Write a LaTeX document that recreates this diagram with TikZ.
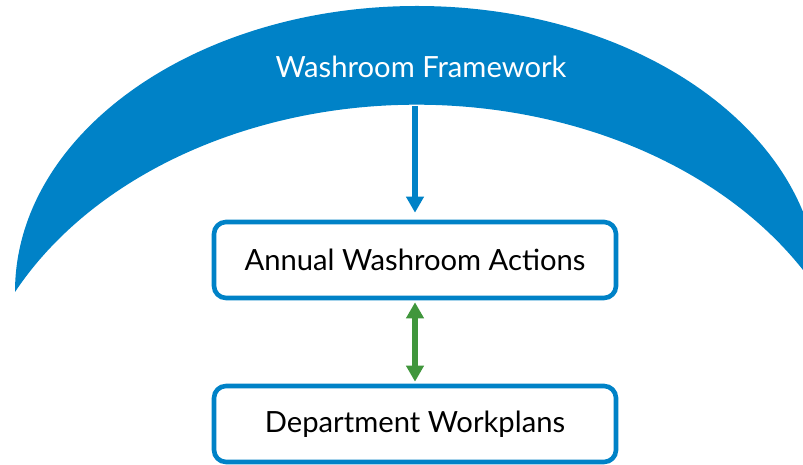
\documentclass[tikz,border=0pt]{standalone}
\usepackage{fontspec}
\setmainfont{Lato}
\usepackage{tikz}
\usetikzlibrary{arrows.meta, positioning}
\definecolor{washblue}{RGB}{0,130,199}
\definecolor{washgreen}{RGB}{64,150,60}
\tikzset{
  block/.style={rectangle, rounded corners=6pt, draw=washblue, line width=2.3pt,
                fill=white, text=black, font=\fontsize{14.6}{16}\selectfont,
                minimum width=201pt, minimum height=38pt, inner sep=2pt, align=center},
  arr/.style={-{Triangle[width=8.5pt, length=8pt]}, line width=2.6pt, washblue},
  dblarr/.style={{Triangle[width=8.5pt, length=8pt]}-{Triangle[width=8.5pt, length=8pt]},
                 line width=2.6pt, washgreen},
  lbl/.style={font=\fontsize{14.6}{16}\selectfont, text=white},
}

\begin{document}
\begin{tikzpicture}[x=0.5pt, y=0.5pt]
  \useasboundingbox (0,0) rectangle (803,465);
  \clip (0,0) rectangle (803,465);
  %% Framework crescent
  \fill[washblue] (15,173)
    arc[start angle=180, end angle=0, x radius=402, y radius=286]
    arc[start angle=26.7, end angle=153.3, x radius=450, y radius=340] -- cycle;
  \node[lbl] (frame) at (421,398) {Washroom Framework};
  \coordinate (frametip) at (415,359);
  %% Boxes
  \node[block] (actions) at (415,205) {Annual Washroom Actions};
  \node[block] (plans)   at (415,41)  {Department Workplans};
  \draw[arr, shorten >=3.5pt] (frametip) -- (actions.north);
  \draw[dblarr, shorten <=1pt, shorten >=1pt] (actions.south) -- (plans.north);
\end{tikzpicture}
\end{document}
